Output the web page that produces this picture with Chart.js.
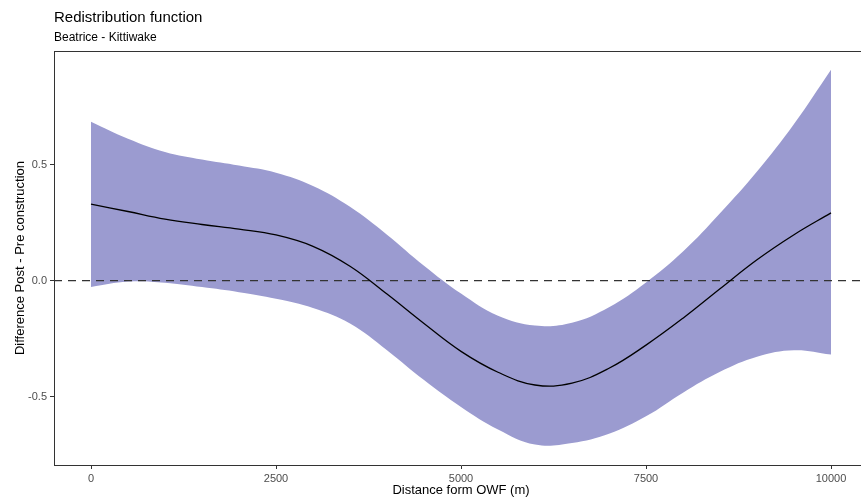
<!DOCTYPE html>
<html>
<head>
<meta charset="utf-8">
<script src="https://cdn.jsdelivr.net/npm/chart.js@4.4.1/dist/chart.umd.min.js"></script>
<style>
  html, body { margin: 0; padding: 0; background: #fff; overflow: hidden; }
  #wrap { width: 868px; height: 500px; }
</style>
</head>
<body>
<div id="wrap"><canvas id="c" width="868" height="500"></canvas></div>
<script>
/* Redistribution function — GAM fit with confidence band */

const DIST  = [0, 500, 1000, 1500, 2000, 2500, 3000, 3500, 4000, 4500, 5000,
               5500, 6000, 6500, 7000, 7500, 8000, 8500, 9000, 9500, 10000];
const FIT   = [0.33, 0.298, 0.265, 0.242, 0.222, 0.197, 0.148, 0.062, -0.058, -0.185, -0.305,
               -0.395, -0.45, -0.442, -0.378, -0.278, -0.162, -0.035, 0.09, 0.198, 0.292];
const UPPER = [0.685, 0.612, 0.555, 0.522, 0.496, 0.465, 0.408, 0.318, 0.198, 0.064, -0.056,
               -0.152, -0.194, -0.182, -0.115, -0.008, 0.125, 0.29, 0.47, 0.675, 0.909];
const LOWER = [-0.027, -0.004, -0.009, -0.028, -0.05, -0.078, -0.118, -0.185, -0.30, -0.429, -0.545,
               -0.642, -0.707, -0.70, -0.66, -0.585, -0.483, -0.393, -0.328, -0.30, -0.319];

const X_TICKS = [0, 2500, 5000, 7500, 10000];
const Y_TICKS = [-0.5, 0.0, 0.5];
const X_RANGE = [-500, 10500];
const Y_RANGE = [-0.795, 0.99];
const HLINE   = 0;

const FONT = '"Liberation Sans", Arial, Helvetica, sans-serif';
const pts  = ys => DIST.map((x, i) => ({ x, y: ys[i] }));

// Title, subtitle and the top panel border
const decorPlugin = {
  id: 'decor',
  afterDraw(chart) {
    const { ctx, chartArea: a } = chart;
    ctx.save();
    ctx.strokeStyle = '#333333';
    ctx.lineWidth = 1;
    ctx.beginPath();
    ctx.moveTo(a.left, a.top + 0.5);
    ctx.lineTo(a.right, a.top + 0.5);
    ctx.stroke();
    ctx.fillStyle = '#000';
    ctx.textAlign = 'left';
    ctx.textBaseline = 'alphabetic';
    ctx.font = '15px ' + FONT;
    ctx.fillText('Redistribution function', 54, 22);
    ctx.font = '12px ' + FONT;
    ctx.fillText('Beatrice - Kittiwake', 54, 41);
    ctx.restore();
  },
};

new Chart(document.getElementById('c').getContext('2d'), {
  type: 'line',
  data: {
    datasets: [
      {
        label: 'fit', data: pts(FIT), order: 0,
        borderColor: '#000', borderWidth: 1.3, pointRadius: 0, tension: 0.4, fill: false,
      },
      {
        label: 'zero', data: X_RANGE.map(x => ({ x, y: HLINE })), order: 1,
        borderColor: '#333333', borderWidth: 1.3, borderDash: [8, 6], pointRadius: 0, fill: false,
      },
      {
        label: 'upper', data: pts(UPPER), order: 2,
        borderWidth: 0, borderColor: 'rgba(0,0,0,0)', pointRadius: 0, tension: 0.4,
        fill: '+1', backgroundColor: '#9b9bd0',
      },
      {
        label: 'lower', data: pts(LOWER), order: 3,
        borderWidth: 0, borderColor: 'rgba(0,0,0,0)', pointRadius: 0, tension: 0.4, fill: false,
      },
    ],
  },
  options: {
    responsive: false,
    animation: false,
    layout: { padding: { top: 51, right: 0, bottom: 0, left: 0 } },
    plugins: { legend: { display: false }, tooltip: { enabled: false }, title: { display: false } },
    scales: {
      x: {
        type: 'linear', min: X_RANGE[0], max: X_RANGE[1],
        afterBuildTicks: s => { s.ticks = X_TICKS.map(v => ({ value: v })); },
        afterFit: s => { s.height = 35; },
        ticks: { color: '#4d4d4d', font: { family: FONT, size: 11 }, padding: 3, maxRotation: 0,
                 callback: v => String(v) },
        grid: { drawOnChartArea: false, tickLength: 4, color: '#333333' },
        border: { color: '#333333', width: 1 },
        title: { display: true, text: 'Distance form OWF (m)', color: '#000',
                 font: { family: FONT, size: 13 }, padding: { top: 0, bottom: 2 } },
      },
      y: {
        type: 'linear', min: Y_RANGE[0], max: Y_RANGE[1],
        afterBuildTicks: s => { s.ticks = Y_TICKS.map(v => ({ value: v })); },
        afterFit: s => { s.width = 54; },
        ticks: { color: '#4d4d4d', font: { family: FONT, size: 11 }, padding: 3,
                 callback: v => v.toFixed(1) },
        grid: { drawOnChartArea: false, tickLength: 4, color: '#333333' },
        border: { color: '#333333', width: 1 },
        title: { display: true, text: 'Difference Post - Pre construction', color: '#000',
                 font: { family: FONT, size: 13 }, padding: { top: 13, bottom: 0 } },
      },
    },
  },
  plugins: [decorPlugin],
});
</script>
</body>
</html>
